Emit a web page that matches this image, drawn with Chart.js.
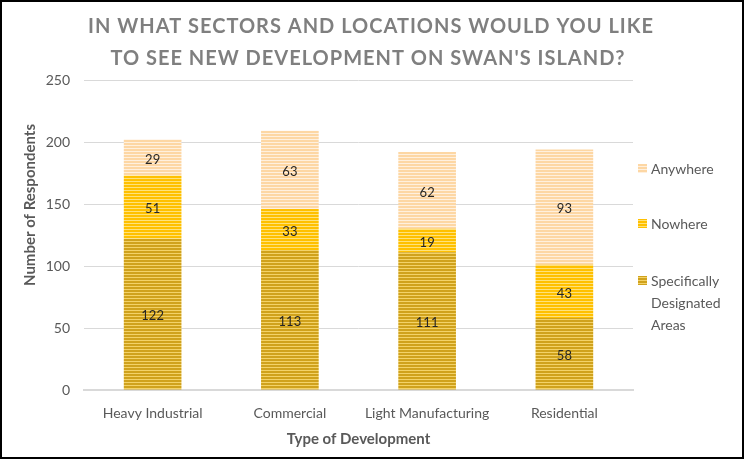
<!DOCTYPE html>
<html>
<head>
<meta charset="utf-8">
<script src="https://cdn.jsdelivr.net/npm/chart.js@4"></script>
<style>
  html, body { margin: 0; padding: 0; background: #fff; }
  #wrap { position: relative; width: 744px; height: 459px; box-sizing: border-box; border: 2px solid #000; }
  canvas { display: block; }
</style>
</head>
<body>
<div id="wrap"><canvas id="c" width="740" height="455"></canvas></div>
<script>
const titleLines = ["IN WHAT SECTORS AND LOCATIONS WOULD YOU LIKE", "TO SEE NEW DEVELOPMENT ON SWAN'S ISLAND?"];
const categories = ["Heavy Industrial", "Commercial", "Light Manufacturing", "Residential"];
const seriesNames = ["Specifically Designated Areas", "Nowhere", "Anywhere"];
const legendLines = [["Anywhere"], ["Nowhere"], ["Specifically", "Designated", "Areas"]];
const specificallyDesignated = [122, 113, 111, 58];
const nowhere = [51, 33, 19, 43];
const anywhere = [29, 63, 62, 93];
const yTicks = [0, 50, 100, 150, 200, 250];
const xTitle = "Type of Development";
const yTitle = "Number of Respondents";

const FONT = "Lato, 'Open Sans', sans-serif";

function stripes(dark, light) {
  const t = document.createElement('canvas');
  t.width = 4; t.height = 3;
  const g = t.getContext('2d');
  g.fillStyle = dark; g.fillRect(0, 0, 4, 2);
  g.fillStyle = light; g.fillRect(0, 2, 4, 1);
  return g.createPattern(t, 'repeat');
}
const fills = [
  stripes('#d0a21c', '#f3d268'),
  stripes('#ffc000', '#ffe27a'),
  stripes('#fdd7a4', '#fff0de')
];

const overlay = {
  id: 'overlay',
  afterDatasetsDraw(chart) {
    const ctx = chart.ctx;
    ctx.save();
    ctx.font = "13px " + FONT;
    ctx.fillStyle = '#262626';
    ctx.textAlign = 'center';
    ctx.textBaseline = 'middle';
    chart.data.datasets.forEach((ds, di) => {
      chart.getDatasetMeta(di).data.forEach((bar, i) => {
        const y = (bar.y + bar.base) / 2;
        ctx.fillText(String(ds.data[i]), bar.x, y + 2);
      });
    });
    ctx.restore();
  },
  afterDraw(chart) {
    const ctx = chart.ctx;
    ctx.save();
    // title
    ctx.fillStyle = '#7f7f7f';
    ctx.font = "bold 20px " + FONT;
    ctx.textAlign = 'center';
    ctx.textBaseline = 'middle';
    try { ctx.letterSpacing = '1px'; } catch (e) {}
    ctx.fillText(titleLines[0], 369, 25);
    ctx.fillText(titleLines[1], 366, 57);
    try { ctx.letterSpacing = '0px'; } catch (e) {}
    // y title
    ctx.save();
    ctx.translate(28, 203);
    ctx.rotate(-Math.PI / 2);
    ctx.font = "bold 15px " + FONT;
    ctx.fillStyle = '#595959';
    ctx.fillText(yTitle, 0, 0);
    ctx.restore();
    // legend
    const items = [
      { di: 2, y: 167 },
      { di: 1, y: 222 },
      { di: 0, y: 279 }
    ];
    ctx.font = "14px " + FONT;
    ctx.textAlign = 'left';
    items.forEach((it, k) => {
      ctx.fillStyle = fills[it.di];
      ctx.fillRect(636, it.y - 5, 9, 9);
      ctx.fillStyle = '#595959';
      const lines = legendLines[k];
      lines.forEach((ln, j) => ctx.fillText(ln, 649, it.y + j * 22));
    });
    ctx.restore();
  }
};

new Chart(document.getElementById('c'), {
  type: 'bar',
  data: {
    labels: categories,
    datasets: [
      { label: seriesNames[0], data: specificallyDesignated, backgroundColor: fills[0] },
      { label: seriesNames[1], data: nowhere, backgroundColor: fills[1] },
      { label: seriesNames[2], data: anywhere, backgroundColor: fills[2] }
    ]
  },
  options: {
    responsive: false,
    animation: false,
    devicePixelRatio: 1,
    layout: { padding: { top: 78, right: 109, left: 0, bottom: 0 } },
    plugins: { legend: { display: false }, title: { display: false }, tooltip: { enabled: false } },
    datasets: { bar: { categoryPercentage: 1, barPercentage: 0.42 } },
    scales: {
      x: {
        stacked: true,
        grid: { display: false, drawTicks: false },
        border: { display: true, color: '#d9d9d9', width: 2 },
        ticks: { color: '#595959', font: { size: 14, family: FONT }, padding: 15, maxRotation: 0 },
        title: { display: true, text: xTitle, color: '#595959', font: { size: 15, weight: 'bold', family: FONT }, padding: { top: 0, bottom: 9 } },
        afterFit(s) { s.height = 67; }
      },
      y: {
        stacked: true,
        min: 0, max: 250,
        afterBuildTicks(s) { s.ticks = yTicks.map(v => ({ value: v })); },
        grid: { color: '#d9d9d9', lineWidth: 1, drawTicks: false },
        border: { display: false },
        ticks: { color: '#595959', font: { size: 14, family: FONT }, padding: 14 },
        afterFit(s) { s.width = 82; }
      }
    }
  },
  plugins: [overlay]
});
</script>
</body>
</html>
